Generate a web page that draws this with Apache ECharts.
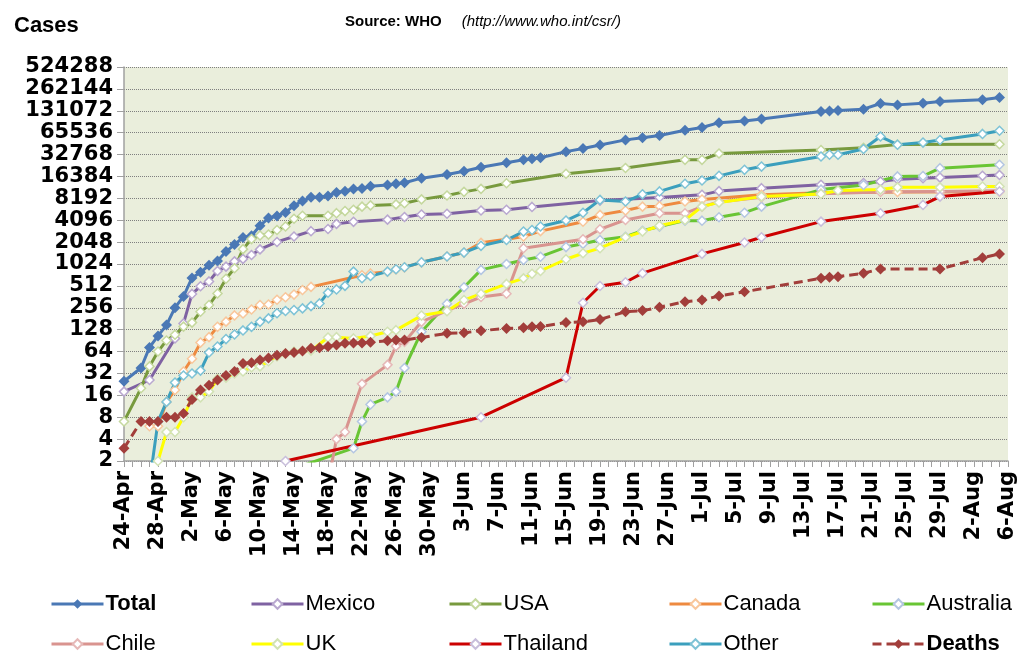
<!DOCTYPE html>
<html>
<head>
<meta charset="utf-8">
<title>Cases</title>
<script src="https://cdn.jsdelivr.net/npm/echarts@6/dist/echarts.min.js"></script>
<style>
  html, body { margin: 0; padding: 0; background: #fff; }
  #chart { width: 1023px; height: 653px; }
</style>
</head>
<body>
<div id="chart"></div>
<script>
// one category per day, 24-Apr .. 6-Aug
const monthSpans = [['Apr', 24, 30], ['May', 1, 31], ['Jun', 1, 30], ['Jul', 1, 31], ['Aug', 1, 6]];
const dates = [];
monthSpans.forEach(([m, first, last]) => {
  for (let d = first; d <= last; d++) dates.push(d + '-' + m);
});

// cumulative counts
const total = [
  ['24-Apr', 25], ['26-Apr', 38], ['27-Apr', 73], ['28-Apr', 105], ['29-Apr', 148], ['30-Apr', 257],
  ['1-May', 367], ['2-May', 658], ['3-May', 787], ['4-May', 985], ['5-May', 1124], ['6-May', 1516],
  ['7-May', 1893], ['8-May', 2371], ['9-May', 2500], ['10-May', 3440], ['11-May', 4379], ['12-May', 4694],
  ['13-May', 5251], ['14-May', 6497], ['15-May', 7520], ['16-May', 8451], ['17-May', 8480], ['18-May', 8829],
  ['19-May', 9830], ['20-May', 10243], ['21-May', 11034], ['22-May', 11168], ['23-May', 12022], ['25-May', 12515],
  ['26-May', 12954], ['27-May', 13398], ['29-May', 15510], ['1-Jun', 17410], ['3-Jun', 19273], ['5-Jun', 21940],
  ['8-Jun', 25288], ['10-Jun', 27737], ['11-Jun', 28774], ['12-Jun', 29669], ['15-Jun', 35928], ['17-Jun', 39620],
  ['19-Jun', 44287], ['22-Jun', 52160], ['24-Jun', 55867], ['26-Jun', 59814], ['29-Jun', 70893], ['1-Jul', 77201],
  ['3-Jul', 89921], ['6-Jul', 94512], ['8-Jul', 101000], ['15-Jul', 128000], ['16-Jul', 130000], ['17-Jul', 132000],
  ['20-Jul', 138000], ['22-Jul', 165000], ['24-Jul', 158000], ['27-Jul', 166000], ['29-Jul', 176000],
  ['3-Aug', 186000], ['5-Aug', 200000]
];
const mexico = [
  ['24-Apr', 18], ['27-Apr', 26], ['30-Apr', 97], ['1-May', 156], ['2-May', 397], ['3-May', 506],
  ['4-May', 590], ['5-May', 822], ['6-May', 942], ['7-May', 1112], ['8-May', 1204], ['9-May', 1364],
  ['10-May', 1626], ['12-May', 2059], ['14-May', 2446], ['16-May', 2895], ['18-May', 3103], ['19-May', 3648],
  ['21-May', 3892], ['25-May', 4174], ['27-May', 4541], ['29-May', 4910], ['1-Jun', 5029], ['5-Jun', 5563],
  ['8-Jun', 5717], ['11-Jun', 6241], ['19-Jun', 7624], ['26-Jun', 8400], ['1-Jul', 9150], ['3-Jul', 10300],
  ['8-Jul', 11300], ['15-Jul', 12600], ['20-Jul', 13300], ['22-Jul', 14000], ['24-Jul', 15000], ['27-Jul', 15500],
  ['29-Jul', 15800], ['3-Aug', 16700], ['5-Aug', 17200]
];
const usa = [
  ['24-Apr', 7], ['26-Apr', 20], ['27-Apr', 40], ['28-Apr', 64], ['29-Apr', 91], ['30-Apr', 109],
  ['1-May', 141], ['2-May', 160], ['3-May', 226], ['4-May', 279], ['5-May', 403], ['6-May', 642],
  ['7-May', 896], ['8-May', 1639], ['9-May', 2254], ['10-May', 2532], ['11-May', 2600], ['12-May', 3009],
  ['13-May', 3352], ['14-May', 4298], ['15-May', 4714], ['18-May', 4714], ['19-May', 5123], ['20-May', 5469],
  ['21-May', 5710], ['22-May', 6300], ['23-May', 6552], ['26-May', 6764], ['27-May', 7000], ['29-May', 7927],
  ['1-Jun', 8975], ['3-Jun', 10053], ['5-Jun', 11054], ['8-Jun', 13217], ['15-Jun', 17855], ['22-Jun', 21449],
  ['29-Jun', 27717], ['1-Jul', 27717], ['3-Jul', 33902], ['15-Jul', 37900], ['20-Jul', 40600], ['24-Jul', 45000],
  ['5-Aug', 45500]
];
const canada = [
  ['27-Apr', 6], ['28-Apr', 6], ['29-Apr', 13], ['30-Apr', 19], ['1-May', 34], ['2-May', 51],
  ['3-May', 85], ['4-May', 101], ['5-May', 140], ['6-May', 165], ['7-May', 201], ['8-May', 214],
  ['9-May', 242], ['10-May', 280], ['11-May', 284], ['12-May', 330], ['13-May', 358], ['14-May', 389],
  ['15-May', 449], ['16-May', 496], ['22-May', 719], ['23-May', 760], ['25-May', 803], ['26-May', 865],
  ['27-May', 920], ['29-May', 1080], ['1-Jun', 1300], ['3-Jun', 1470], ['5-Jun', 2000], ['8-Jun', 2240],
  ['10-Jun', 2450], ['12-Jun', 2900], ['17-Jun', 3900], ['19-Jun', 4850], ['22-Jun', 5560], ['24-Jun', 6300],
  ['26-Jun', 6400], ['29-Jun', 7400], ['1-Jul', 7900], ['8-Jul', 9200], ['15-Jul', 9800], ['24-Jul', 10000],
  ['5-Aug', 10100]
];
const australia = [
  ['9-May', 1], ['21-May', 3], ['22-May', 7], ['23-May', 12], ['25-May', 15], ['26-May', 18],
  ['27-May', 38], ['29-May', 120], ['1-Jun', 290], ['3-Jun', 490], ['5-Jun', 850], ['8-Jun', 1024],
  ['10-Jun', 1160], ['12-Jun', 1290], ['15-Jun', 1750], ['17-Jun', 1940], ['19-Jun', 2190], ['22-Jun', 2430],
  ['24-Jun', 2940], ['26-Jun', 3350], ['29-Jun', 4040], ['1-Jul', 4040], ['3-Jul', 4500], ['6-Jul', 5200],
  ['8-Jul', 6300], ['15-Jul', 10800], ['20-Jul', 12500], ['24-Jul', 16400], ['27-Jul', 16600], ['29-Jul', 21300],
  ['5-Aug', 23700]
];
const chile = [
  ['18-May', 1], ['19-May', 4], ['20-May', 5], ['22-May', 23], ['25-May', 42], ['26-May', 76],
  ['27-May', 87], ['29-May', 164], ['1-Jun', 234], ['3-Jun', 290], ['5-Jun', 360], ['8-Jun', 400],
  ['10-Jun', 1690], ['17-Jun', 2240], ['19-Jun', 3080], ['22-Jun', 4130], ['26-Jun', 5100], ['29-Jun', 5100],
  ['1-Jul', 6300], ['3-Jul', 7300], ['8-Jul', 8500], ['15-Jul', 9500], ['22-Jul', 10000], ['29-Jul', 10200],
  ['5-Aug', 10400]
];
const uk = [
  ['28-Apr', 2], ['29-Apr', 5], ['30-Apr', 5], ['1-May', 8], ['2-May', 15], ['3-May', 15],
  ['4-May', 18], ['5-May', 27], ['6-May', 28], ['7-May', 32], ['8-May', 34], ['9-May', 39],
  ['10-May', 40], ['11-May', 47], ['12-May', 55], ['13-May', 60], ['14-May', 64], ['16-May', 66],
  ['18-May', 100], ['19-May', 101], ['21-May', 97], ['23-May', 105], ['25-May', 120], ['26-May', 126],
  ['29-May', 200], ['1-Jun', 229], ['3-Jun', 327], ['5-Jun', 400], ['8-Jun', 545], ['10-Jun', 650],
  ['11-Jun', 750], ['12-Jun', 822], ['15-Jun', 1190], ['17-Jun', 1440], ['19-Jun', 1690], ['22-Jun', 2390],
  ['24-Jun', 2860], ['26-Jun', 3440], ['29-Jun', 4130], ['1-Jul', 6300], ['3-Jul', 7200], ['8-Jul', 8650],
  ['15-Jul', 9400], ['17-Jul', 10500], ['22-Jul', 10800], ['24-Jul', 11600], ['29-Jul', 11600], ['3-Aug', 11900],
  ['5-Aug', 11900]
];
const thailand = [
  ['13-May', 2], ['5-Jun', 8], ['15-Jun', 28], ['17-Jun', 300], ['19-Jun', 510], ['22-Jun', 575],
  ['24-Jun', 766], ['1-Jul', 1410], ['6-Jul', 2020], ['8-Jul', 2390], ['15-Jul', 3920], ['22-Jul', 5100],
  ['27-Jul', 6650], ['29-Jul', 8660], ['5-Aug', 10200]
];
const other = [
  ['27-Apr', 1], ['28-Apr', 7], ['29-Apr', 13], ['30-Apr', 24], ['1-May', 30], ['2-May', 32],
  ['3-May', 35], ['4-May', 62], ['5-May', 75], ['6-May', 95], ['7-May', 110], ['8-May', 125],
  ['9-May', 140], ['10-May', 164], ['11-May', 183], ['12-May', 215], ['13-May', 231], ['14-May', 238],
  ['15-May', 251], ['16-May', 270], ['17-May', 294], ['18-May', 413], ['19-May', 458], ['20-May', 512],
  ['21-May', 805], ['22-May', 652], ['23-May', 700], ['25-May', 805], ['26-May', 867], ['27-May', 925],
  ['29-May', 1080], ['1-Jun', 1300], ['3-Jun', 1470], ['5-Jun', 1820], ['8-Jun', 2190], ['10-Jun', 2860],
  ['11-Jun', 3000], ['12-Jun', 3360], ['15-Jun', 4050], ['17-Jun', 5200], ['19-Jun', 7800], ['22-Jun', 7400],
  ['24-Jun', 9300], ['26-Jun', 10200], ['29-Jun', 13000], ['1-Jul', 14400], ['3-Jul', 16700], ['6-Jul', 20200],
  ['8-Jul', 22400], ['15-Jul', 30800], ['16-Jul', 32600], ['17-Jul', 32600], ['20-Jul', 39000], ['22-Jul', 58000],
  ['24-Jul', 44800], ['27-Jul', 47900], ['29-Jul', 52000], ['3-Aug', 63000], ['5-Aug', 69600]
];
const deaths = [
  ['24-Apr', 3], ['26-Apr', 7], ['27-Apr', 7], ['28-Apr', 7], ['29-Apr', 8], ['30-Apr', 8],
  ['1-May', 9], ['2-May', 14], ['3-May', 19], ['4-May', 22], ['5-May', 26], ['6-May', 30],
  ['7-May', 34], ['8-May', 44], ['9-May', 45], ['10-May', 49], ['11-May', 52], ['12-May', 57],
  ['13-May', 60], ['14-May', 62], ['15-May', 65], ['16-May', 71], ['17-May', 72], ['18-May', 75],
  ['19-May', 79], ['20-May', 83], ['21-May', 84], ['22-May', 84], ['23-May', 86], ['25-May', 90],
  ['26-May', 92], ['27-May', 92], ['29-May', 100], ['1-Jun', 114], ['3-Jun', 116], ['5-Jun', 124],
  ['8-Jun', 133], ['10-Jun', 136], ['11-Jun', 140], ['12-Jun', 141], ['15-Jun', 160], ['17-Jun', 164],
  ['19-Jun', 177], ['22-Jun', 226], ['24-Jun', 234], ['26-Jun', 260], ['29-Jun', 311], ['1-Jul', 327],
  ['3-Jul', 372], ['6-Jul', 425], ['15-Jul', 652], ['16-Jul', 671], ['17-Jul', 685], ['20-Jul', 764],
  ['22-Jul', 874], ['29-Jul', 874], ['3-Aug', 1250], ['5-Aug', 1410]
];

const chart = echarts.init(document.getElementById('chart'), null, { renderer: 'canvas' });

// name, data, line colour, marker border, filled marker?
const lines = [
  ['Total', total, '#4a78b5', '#4a78b5', true],
  ['Mexico', mexico, '#7f62a2', '#b9a8d0', false],
  ['USA', usa, '#789a3e', '#c5d89e', false],
  ['Canada', canada, '#ee8a40', '#f8c79c', false],
  ['Australia', australia, '#69c534', '#b4c6e2', false],
  ['Chile', chile, '#d9948f', '#e6b9b8', false],
  ['UK', uk, '#ffff00', '#d2e2b4', false],
  ['Thailand', thailand, '#cc0000', '#c8bedb', false],
  ['Other', other, '#3b9fbd', '#7fc3d6', false],
  ['Deaths', deaths, '#a23e3b', '#a23e3b', true]
];

const series = lines.map(([name, data, color, border, filled]) => ({
  name: name,
  type: 'line',
  data: data,
  symbol: 'diamond',
  symbolSize: filled ? 11 : 9,
  showAllSymbol: true,
  lineStyle: {
    color: color,
    width: 3,
    type: name === 'Deaths' ? [9, 5] : 'solid'
  },
  itemStyle: {
    color: filled ? color : '#ffffff',
    borderColor: border,
    borderWidth: filled ? 0 : 1.5
  },
  emphasis: { disabled: true }
}));

const legendFont = "'Liberation Sans Narrow', 'Liberation Sans', sans-serif";
const legendSlots = [
  ['Total', 45, 588], ['Mexico', 245, 588], ['USA', 443, 588], ['Canada', 663, 588], ['Australia', 866, 588],
  ['Chile', 45, 628], ['UK', 245, 628], ['Thailand', 443, 628], ['Other', 663, 628], ['Deaths', 866, 628]
];
const legends = legendSlots.map(([name, left, top]) => ({
  data: [name],
  left: left,
  top: top,
  itemWidth: 52,
  itemHeight: 12,
  selectedMode: false,
  lineStyle: { width: 3 },
  textStyle: {
    fontFamily: legendFont,
    fontSize: 22,
    color: '#000',
    fontWeight: (name === 'Total' || name === 'Deaths') ? 'bold' : 'normal',
    padding: [0, 0, 0, -3]
  }
}));

const option = {
  animation: false,
  backgroundColor: '#ffffff',
  title: [
    {
      text: 'Cases',
      left: 9,
      top: 10,
      textStyle: { fontFamily: 'Liberation Sans', fontSize: 22, fontWeight: 'bold', color: '#000' }
    },
    {
      text: '{b|Source: WHO}    {i|(http://www.who.int/csr/)}',
      left: 340,
      top: 8,
      textStyle: {
        rich: {
          b: { fontFamily: 'Liberation Sans', fontSize: 15, fontWeight: 'bold', color: '#000' },
          i: { fontFamily: 'Liberation Sans', fontSize: 15, fontWeight: 'normal', fontStyle: 'italic', color: '#000' }
        }
      }
    }
  ],
  legend: legends,
  grid: {
    left: 124,
    right: 15,
    top: 67,
    bottom: 192,
    show: true,
    backgroundColor: '#eaeedc',
    borderWidth: 0
  },
  xAxis: {
    type: 'category',
    data: dates,
    boundaryGap: false,
    axisLine: { lineStyle: { color: '#a0a0a0', width: 1.5 } },
    axisTick: { show: true, interval: 0, length: 6, lineStyle: { color: '#a0a0a0' } },
    axisLabel: {
      interval: 3,
      rotate: 90,
      margin: 10,
      fontFamily: 'DejaVu Sans',
      fontWeight: 'bold',
      fontSize: 21,
      color: '#000'
    },
    splitLine: { show: false }
  },
  yAxis: {
    type: 'log',
    logBase: 2,
    min: 2,
    max: 524288,
    interval: 1,
    axisLine: { show: true, lineStyle: { color: '#a0a0a0', width: 1.5 } },
    axisTick: { show: true, length: 7, lineStyle: { color: '#a0a0a0' } },
    axisLabel: {
      margin: 11,
      fontFamily: 'DejaVu Sans',
      fontWeight: 'bold',
      fontSize: 21,
      color: '#000',
      formatter: (v) => String(Math.round(v))
    },
    splitLine: { show: true, lineStyle: { color: '#7f7f7f', type: 'dotted', width: 1 } }
  },
  series: series
};

chart.setOption(option);
</script>
</body>
</html>
